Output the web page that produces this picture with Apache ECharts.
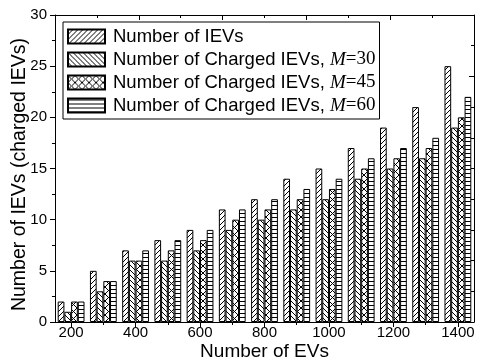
<!DOCTYPE html>
<html>
<head>
<meta charset="utf-8">
<script src="https://cdn.jsdelivr.net/npm/echarts@6/dist/echarts.min.js"></script>
<style>
  html, body { margin: 0; padding: 0; background: #fff; }
  #chart { width: 477px; height: 362px; }
</style>
</head>
<body>
<div id="chart"></div>
<script>
// Number of EVs in the fleet (one group of bars per value)
const evCounts = [200, 300, 400, 500, 600, 700, 800, 900, 1000, 1100, 1200, 1300, 1400];
// Number of IEVs and number charged for each M
const ievs   = [2, 5, 7, 8, 9, 11, 12, 14, 15, 17, 19, 21, 25];
const chgM30 = [1, 3, 6, 6, 7, 9, 10, 11, 12, 14, 15, 16, 19];
const chgM45 = [2, 4, 6, 7, 8, 10, 11, 12, 13, 15, 16, 17, 20];
const chgM60 = [2, 4, 7, 8, 9, 11, 12, 13, 14, 16, 17, 18, 22];
const seriesNames = [
  'Number of IEVs',
  'Number of Charged IEVs, M=30',
  'Number of Charged IEVs, M=45',
  'Number of Charged IEVs, M=60'
];
const xMajorTicks = [200, 400, 600, 800, 1000, 1200, 1400];
const xMinorTicks = [300, 500, 700, 900, 1100, 1300];

// hatch fills drawn on small tiles
function hatch(kind) {
  const p = kind === 'cross' ? 7 : (kind === 'horiz' ? 4 : 5);
  const c = document.createElement('canvas');
  c.width = p; c.height = p;
  const g = c.getContext('2d');
  g.fillStyle = '#fff';
  g.fillRect(0, 0, p, p);
  g.strokeStyle = '#000';
  g.lineWidth = 1;
  const line = (x1, y1, x2, y2) => { g.beginPath(); g.moveTo(x1, y1); g.lineTo(x2, y2); g.stroke(); };
  if (kind === 'fwd' || kind === 'cross') {
    line(-1, p + 1, p + 1, -1);
    line(-1, 1, 1, -1);
    line(p - 1, p + 1, p + 1, p - 1);
  }
  if (kind === 'back' || kind === 'cross') {
    line(-1, -1, p + 1, p + 1);
    line(p - 1, -1, p + 1, 1);
    line(-1, p - 1, 1, p + 1);
  }
  if (kind === 'horiz') {
    g.fillStyle = '#000';
    g.fillRect(0, 1, p, 1);
  }
  return { image: c, repeat: 'repeat' };
}

const fills = [hatch('fwd'), hatch('back'), hatch('cross'), hatch('horiz')];
const values = [ievs, chgM30, chgM45, chgM60];

const series = values.map((vals, i) => ({
  type: 'bar',
  name: seriesNames[i],
  xAxisIndex: 0,
  yAxisIndex: 0,
  barWidth: 6.7,
  barGap: '0%',
  data: evCounts.map((x, j) => [x, vals[j]]),
  itemStyle: { color: fills[i], borderColor: '#000', borderWidth: 1 },
  emphasis: { disabled: true }
}));

const sans = 'Liberation Sans, Arial, sans-serif';
const serif = 'Liberation Serif, Times New Roman, serif';
const lineStyle = { color: '#000', width: 1 };
const plain = v => String(v);

const chart = echarts.init(document.getElementById('chart'), null, { renderer: 'canvas' });
chart.setOption({
  animation: false,
  backgroundColor: '#fff',
  grid: { left: 55, right: 3, top: 15, bottom: 40, outerBoundsMode: 'none' },
  legend: {
    orient: 'vertical',
    left: 63,
    top: 22,
    itemWidth: 37,
    itemHeight: 14,
    itemGap: 4,
    padding: [5, 4, 4, 4],
    borderColor: '#000',
    borderWidth: 1,
    backgroundColor: '#fff',
    icon: 'rect',
    selectedMode: false,
    data: seriesNames,
    formatter: function (name) {
      const k = name.indexOf('M=');
      if (k < 0) return '{a|' + name + '}';
      return '{a|' + name.slice(0, k) + '}{m|M}{t|' + name.slice(k + 1) + '}';
    },
    textStyle: {
      padding: [0, 0, 0, 3],
      rich: {
        a: { fontFamily: sans, fontSize: 18.5, color: '#000', lineHeight: 18 },
        m: { fontFamily: serif, fontStyle: 'italic', fontSize: 19, color: '#000', lineHeight: 18 },
        t: { fontFamily: serif, fontSize: 19, color: '#000', lineHeight: 18 }
      }
    }
  },
  xAxis: [
    {
      type: 'value',
      position: 'bottom',
      min: 150,
      max: 1450,
      name: 'Number of EVs',
      nameLocation: 'middle',
      nameGap: 20,
      nameMoveOverlap: false,
      nameTextStyle: { fontFamily: sans, fontSize: 19, color: '#000' },
      axisLine: { show: true, lineStyle: lineStyle },
      axisTick: { show: true, inside: false, length: 5, lineStyle: lineStyle, customValues: xMajorTicks },
      axisLabel: { show: true, margin: 3, fontFamily: sans, fontSize: 15, color: '#000', customValues: xMajorTicks, formatter: plain },
      splitLine: { show: false }
    },
    {
      type: 'value',
      position: 'bottom',
      min: 150,
      max: 1450,
      axisLine: { show: false },
      axisTick: { show: true, inside: false, length: 3, lineStyle: lineStyle, customValues: xMinorTicks },
      axisLabel: { show: false },
      splitLine: { show: false }
    },
    {
      type: 'value',
      position: 'top',
      min: 0,
      max: 10,
      interval: 2,
      axisLine: { show: true, lineStyle: lineStyle },
      axisTick: { show: true, inside: true, length: 5, lineStyle: lineStyle },
      minorTick: { show: true, splitNumber: 2, length: 3, lineStyle: lineStyle },
      axisLabel: { show: false },
      splitLine: { show: false }
    }
  ],
  yAxis: [
    {
      type: 'value',
      position: 'left',
      min: 0,
      max: 30,
      interval: 5,
      name: 'Number of IEVs (charged IEVs)',
      nameLocation: 'middle',
      nameGap: 25,
      nameMoveOverlap: false,
      nameTextStyle: { fontFamily: sans, fontSize: 19.5, color: '#000', padding: [0, 12, 0, 0] },
      axisLine: { show: true, lineStyle: lineStyle },
      axisTick: { show: true, inside: false, length: 5, lineStyle: lineStyle },
      minorTick: { show: true, splitNumber: 2, length: 3, lineStyle: lineStyle },
      axisLabel: { show: true, margin: 8, fontFamily: sans, fontSize: 15, color: '#000', formatter: plain },
      splitLine: { show: false }
    },
    {
      type: 'value',
      position: 'right',
      min: 0,
      max: 10,
      interval: 2,
      axisLine: { show: true, lineStyle: lineStyle },
      axisTick: { show: true, inside: true, length: 5, lineStyle: lineStyle },
      minorTick: { show: true, splitNumber: 2, length: 3, lineStyle: lineStyle },
      axisLabel: { show: false },
      splitLine: { show: false }
    }
  ],
  series: series
});
</script>
</body>
</html>
